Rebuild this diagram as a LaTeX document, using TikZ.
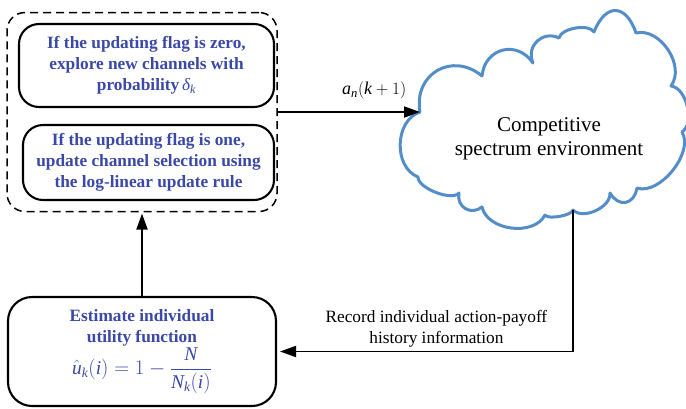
\documentclass[tikz,border=0pt]{standalone}
\usepackage{amsmath}
\usepackage{fontspec}
\setmainfont{Liberation Serif}
\usetikzlibrary{arrows.meta}
\definecolor{txtblue}{RGB}{58,72,168}
\definecolor{cloudblue}{RGB}{84,142,200}
\newcommand{\mvar}[1]{\textit{\mdseries #1}}
\begin{document}
\begin{tikzpicture}[x=1pt,y=-1pt,
  every node/.style={inner sep=0pt, outer sep=0pt},
  stepbox/.style={draw=black, line width=2.1pt, rounded corners=20pt,
    font=\fontsize{17.3}{21}\selectfont\bfseries, text=txtblue, align=center},
  groupbox/.style={draw=black, line width=1.5pt, dash pattern=on 8pt off 5pt,
    rounded corners=18pt},
  flow/.style={draw=black, line width=1.9pt, -{Triangle[length=16pt,width=11pt]}},
  cloudline/.style={draw=cloudblue, line width=3pt, line join=round},
  puff/.style={bend left=70, looseness=#1},
  lbl/.style={font=\fontsize{17.3}{21}\selectfont, align=center}]
  \useasboundingbox (0,0) rectangle (686,408);

  % update stage: two rules inside a dashed group
  \node[groupbox, minimum width=270pt, minimum height=199pt] (grp) at (142,112) {};
  \node[stepbox, minimum width=255pt, minimum height=83pt] (zero) at (146.5,65.5)
    {If the updating flag is zero,\\explore new channels with\\probability\,$\mvar{δ}_{\mvar{k}}$};
  \node[stepbox, minimum width=251pt, minimum height=75pt] (one) at (148.5,162.5)
    {If the updating flag is one,\\update channel selection using\\the log-linear update rule};

  % estimation stage
  \node[stepbox, rounded corners=24pt, minimum width=268pt, minimum height=109pt] (est) at (142,351.5)
    {Estimate individual\\utility function\\[1pt]
     {\mdseries\fontsize{19.5}{22}\selectfont
      $\hat{\mvar{u}}_{\mvar{k}}(\mvar{i}) = 1 - \dfrac{\mvar{N}}{\mvar{N}_{\mvar{k}}(\mvar{i})}$}};

  % environment cloud
  \draw[cloudline] (420,112) to[puff=1.38] (482,76) to[puff=1.38] (533,63)
    to[puff=1.3] (559,38) to[puff=0.72] (594,32) to[puff=1.9] (636,33)
    to[puff=1.0] (671,86) to[puff=0.85] (682,132) to[puff=0.85] (637,188)
    to[puff=1.6] (610,193) to[puff=0.9] (573,210) to[puff=0.5] (545,215)
    to[puff=0.98] (482,207) to[puff=1.35] (459,193) to[puff=0.65] (418,177)
    to[puff=1.05] (420,112) -- cycle;
  \coordinate (envin) at (420,112);
  \coordinate (envout) at (573,210);
  \node[font=\fontsize{21}{24.5}\selectfont, align=center] (env) at (549,139)
    {Competitive\\spectrum environment};

  % connectors
  \draw[flow] (grp.east) -- node[pos=0.68, above=13pt, font=\fontsize{18}{21}\selectfont]
    (act) {$\mvar{a}_{\mvar{n}}(\mvar{k}+1)$} (envin);
  \draw[flow, shorten >=4pt] (envout) |- node[pos=0.73, above=4pt, lbl] (rec)
    {Record individual action-payoff\\history information} (est.east);
  \draw[flow, shorten >=2pt] (est.north) -- (grp.south);
\end{tikzpicture}
\end{document}
